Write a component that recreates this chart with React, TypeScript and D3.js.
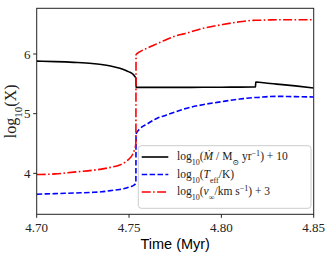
import React from 'react';
import * as d3 from 'd3';

// time grid (Myr); the two points at 4.7537/4.7538 make the vertical jump,
// 4.8185/4.8186 the small step in Mdot
const times = [
  4.700, 4.710, 4.720, 4.730, 4.735, 4.740, 4.745, 4.748, 4.750, 4.752, 4.753, 4.7537,
  4.7538, 4.756, 4.760, 4.765, 4.770, 4.775, 4.780, 4.790, 4.800, 4.810, 4.8185,
  4.8186, 4.825, 4.830, 4.840, 4.850,
];

const mdotVals = [
  5.88, 5.872, 5.86, 5.842, 5.825, 5.80, 5.762, 5.729, 5.701, 5.665, 5.63, 5.59,
  5.44, 5.44, 5.44, 5.44, 5.44, 5.44, 5.44, 5.442, 5.443, 5.445, 5.446,
  5.53, 5.51, 5.495, 5.465, 5.43,
];

const teffVals = [
  3.65, 3.66, 3.67, 3.68, 3.69, 3.71, 3.73, 3.75, 3.77, 3.79, 3.81, 3.84,
  4.66, 4.75, 4.83, 4.92, 4.975, 5.03, 5.08, 5.15, 5.20, 5.245, 5.27,
  5.27, 5.285, 5.29, 5.285, 5.28,
];

const vinfVals = [
  3.98, 3.99, 4.02, 4.05, 4.07, 4.10, 4.14, 4.19, 4.24, 4.32, 4.40, 4.50,
  5.99, 6.04, 6.10, 6.17, 6.24, 6.30, 6.34, 6.43, 6.49, 6.54, 6.565,
  6.565, 6.57, 6.575, 6.575, 6.575,
];

const xTicks = [4.70, 4.75, 4.80, 4.85];
const yTicks = [4, 5, 6];

const W = 332;
const H = 258;
const m = { left: 36.7, right: 313.7, top: 8.3, bottom: 214.3 };

const serif = '"Liberation Serif", "DejaVu Serif", serif';

export default function App() {
  const x = d3.scaleLinear().domain([4.70, 4.85]).range([m.left, m.right]);
  const y = d3.scaleLinear().domain([3.313, 6.766]).range([m.bottom, m.top]);

  const line = d3.line<number>()
    .x((_, i) => x(times[i]))
    .y(d => y(d))
    .curve(d3.curveMonotoneX);

  const series = [
    { vals: mdotVals, color: '#000000', dash: undefined as string | undefined },
    { vals: teffVals, color: '#0000ff', dash: '5.5,2.4' },
    { vals: vinfVals, color: '#ff0000', dash: '9,2.4,1.6,2.4' },
  ];

  const lg = { x: 138.3, y: 145.7, w: 172.7, h: 62.6 };
  const rows = [157, 174.5, 192];
  const fs = 11.5;
  const sub = { fontSize: fs * 0.7 };

  return (
    <svg width={W} height={H} style={{ position: 'absolute', left: 0, top: 0, background: '#fff' }}>
      <defs>
        <clipPath id="plot">
          <rect x={m.left} y={m.top} width={m.right - m.left} height={m.bottom - m.top} />
        </clipPath>
      </defs>

      <g clipPath="url(#plot)">
        {series.map((s, i) => (
          <path key={i} d={line(s.vals) || ''} fill="none" stroke={s.color}
            strokeWidth={1.6} strokeDasharray={s.dash} />
        ))}
      </g>

      {/* frame */}
      <rect x={m.left} y={m.top} width={m.right - m.left} height={m.bottom - m.top}
        fill="none" stroke="#222" strokeWidth={1} />

      {/* x axis */}
      {xTicks.map(t => (
        <g key={t}>
          <line x1={x(t)} x2={x(t)} y1={m.bottom} y2={m.bottom + 3.5} stroke="#222" />
          <text x={x(t)} y={231.5} textAnchor="middle" fontFamily={serif} fontSize={13} fill="#222">
            {t.toFixed(2)}
          </text>
        </g>
      ))}
      <text x={(m.left + m.right) / 2} y={248.5} textAnchor="middle"
        fontFamily='"Liberation Sans", Arial, sans-serif' fontSize={14.5} fill="#000">
        Time (Myr)
      </text>

      {/* y axis */}
      {yTicks.map(t => (
        <g key={t}>
          <line x1={m.left - 3.5} x2={m.left} y1={y(t)} y2={y(t)} stroke="#222" />
          <text x={30.5} y={y(t)} dy="0.35em" textAnchor="end" fontFamily={serif} fontSize={13} fill="#222">
            {t}
          </text>
        </g>
      ))}
      <text transform={`translate(15.5, ${(m.top + m.bottom) / 2}) rotate(-90)`} textAnchor="middle"
        fontFamily={serif} fontSize={16} fill="#222">
        log<tspan baselineShift="sub" style={{ fontSize: 11 }}>10</tspan>(X)
      </text>

      {/* legend */}
      <rect x={lg.x} y={lg.y} width={lg.w} height={lg.h} rx={3}
        fill="#fff" fillOpacity={0.8} stroke="#cccccc" strokeWidth={1} />
      {series.map((s, i) => (
        <line key={i} x1={141.7} x2={168.3} y1={rows[i]} y2={rows[i]} stroke={s.color}
          strokeWidth={1.6} strokeDasharray={s.dash} />
      ))}
      <g fontFamily={serif} fontSize={fs} fill="#222">
        <text x={177} y={rows[0]} dy="0.3em">
          log<tspan baselineShift="sub" style={sub}>10</tspan>
          (<tspan fontStyle="italic">Ṁ</tspan> / M<tspan baselineShift="sub" style={sub}>⊙</tspan> yr
          <tspan baselineShift="super" style={sub}>−1</tspan>) + 10
        </text>
        <text x={177} y={rows[1]} dy="0.3em">
          log<tspan baselineShift="sub" style={sub}>10</tspan>
          (<tspan fontStyle="italic">T</tspan><tspan baselineShift="sub" style={sub}>eff</tspan>/K)
        </text>
        <text x={177} y={rows[2]} dy="0.3em">
          log<tspan baselineShift="sub" style={sub}>10</tspan>
          (<tspan fontStyle="italic">v</tspan><tspan baselineShift="sub" style={sub}>∞</tspan>/km s
          <tspan baselineShift="super" style={sub}>−1</tspan>) + 3
        </text>
      </g>
    </svg>
  );
}
